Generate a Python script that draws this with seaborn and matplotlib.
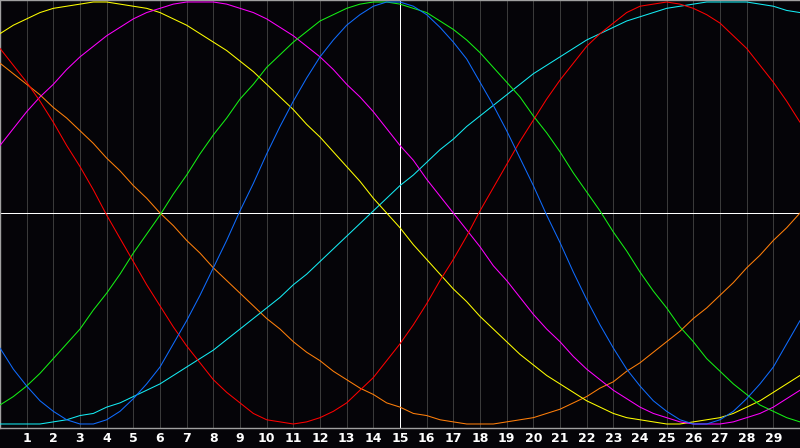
import matplotlib
matplotlib.use("Agg")
import matplotlib.pyplot as plt
import pandas as pd
import seaborn as sns

# x positions: whole days 0..30 and the half days between them
days = [d for d in range(31)]
halfDays = [d + 0.5 for d in range(30)]
dayLabels = [str(d) for d in range(1, 30)]
today = 15

# readings in percent of full swing, on whole days and on half days
blue = [-64, -82, -94, -100, -98, -88, -73, -51, -26, 1, 28, 53, 74, 89, 98, 100,
        94, 81, 62, 39, 13, -14, -41, -64, -82, -94, -100, -98, -88, -73, -51]
blueHalf = [-74, -89, -98, -100, -94, -81, -62, -39, -13, 14, 41, 64, 82, 94, 100,
            98, 88, 73, 51, 26, -1, -28, -53, -74, -89, -98, -100, -94, -81, -62]
red = [78, 62, 43, 22, -1, -23, -44, -63, -79, -90, -98, -100, -97, -90, -78, -62,
       -43, -22, 1, 23, 44, 63, 79, 90, 98, 100, 97, 90, 78, 62, 43]
redHalf = [70, 53, 32, 11, -12, -34, -54, -71, -85, -95, -99, -99, -94, -84, -70,
           -53, -32, -11, 12, 34, 54, 71, 85, 95, 99, 99, 94, 84, 70, 53]
orange = [71, 61, 50, 39, 26, 13, 0, -13, -26, -38, -50, -61, -70, -79, -86, -92,
          -96, -99, -100, -99, -97, -93, -87, -80, -71, -61, -50, -39, -26, -13, 0]
orangeHalf = [66, 56, 45, 33, 20, 7, -6, -19, -32, -44, -55, -66, -75, -83, -90,
              -95, -98, -100, -100, -98, -95, -90, -83, -75, -66, -56, -45, -33, -20, -7]
yellow = [85, 92, 97, 99, 100, 98, 95, 89, 81, 72, 61, 49, 36, 22, 7, -7,
          -22, -36, -49, -61, -72, -81, -89, -95, -98, -100, -99, -97, -92, -85, -77]
yellowHalf = [89, 95, 98, 100, 99, 97, 92, 85, 77, 67, 55, 42, 29, 15, 0,
              -15, -29, -42, -55, -67, -77, -85, -92, -97, -99, -100, -98, -95, -89, -81]
green = [-91, -82, -69, -55, -38, -19, -1, 18, 37, 54, 69, 81, 91, 97, 100, 99,
         95, 87, 76, 62, 46, 29, 10, -9, -28, -45, -61, -75, -86, -94, -99]
greenHalf = [-87, -76, -62, -46, -29, -10, 9, 28, 45, 61, 75, 86, 94, 99, 100,
             97, 91, 82, 69, 55, 38, 19, 1, -18, -37, -54, -69, -81, -91, -97]
cyan = [-100, -100, -99, -96, -92, -87, -81, -73, -65, -55, -45, -34, -23, -11, 1, 13,
        24, 35, 46, 56, 66, 74, 82, 88, 93, 97, 99, 100, 100, 98, 95]
cyanHalf = [-100, -100, -98, -95, -90, -84, -77, -69, -60, -50, -40, -29, -17, -5, 7,
            18, 30, 41, 51, 61, 70, 78, 85, 91, 95, 98, 100, 100, 99, 96]
magenta = [32, 48, 61, 74, 84, 92, 97, 100, 100, 97, 92, 84, 74, 61, 48, 32,
           16, 0, -16, -32, -48, -61, -74, -84, -92, -97, -100, -100, -97, -92, -84]
magentaHalf = [40, 55, 68, 79, 88, 95, 99, 100, 99, 95, 88, 79, 68, 55, 40,
               25, 8, -8, -25, -40, -55, -68, -79, -88, -95, -99, -100, -99, -95, -88]

series = [
    (orange, orangeHalf, "#ff7f0a"),
    (cyan, cyanHalf, "#14ecf4"),
    (yellow, yellowHalf, "#ffff00"),
    (magenta, magentaHalf, "#ff00ff"),
    (green, greenHalf, "#14f014"),
    (red, redHalf, "#ff0000"),
    (blue, blueHalf, "#0f6cff"),
]

bg = "#050408"
sns.set_style("dark", {"axes.facecolor": bg, "figure.facecolor": bg})
plt.rcParams["font.family"] = ["DejaVu Sans"]

fig = plt.figure(figsize=(8, 4.48), dpi=100)
ax = fig.add_axes([0, 20 / 448, 1, 428 / 448])

for d in range(1, 30):
    ax.axvline(d, color="#3a3a3a", linewidth=0.7, antialiased=False, zorder=1)
ax.axhline(0, color="white", linewidth=0.7, antialiased=False, zorder=2)
ax.axvline(today, color="white", linewidth=0.7, antialiased=False, zorder=2)

for whole, half, colour in series:
    df = pd.DataFrame({"day": days + halfDays, "value": whole + half})
    df = df.sort_values("day")
    sns.lineplot(data=df, x="day", y="value", color=colour, linewidth=0.75,
                 ax=ax, zorder=3)

ax.set_xlim(0, 30)
ax.set_ylim(-101.9, 100.95)
ax.set_xticks(range(1, 30))
ax.set_xticklabels(dayLabels, color="white", fontsize=9, fontweight="bold")
ax.set_yticks([])
ax.set_xlabel("")
ax.set_ylabel("")
ax.tick_params(axis="x", length=0, pad=3)
ax.grid(False)

for side in ["top", "left", "bottom"]:
    ax.spines[side].set_visible(True)
    ax.spines[side].set_color("#a0a0a0")
    ax.spines[side].set_linewidth(1)
ax.spines["right"].set_visible(False)

fig.savefig("out.png", dpi=100, facecolor=bg)
